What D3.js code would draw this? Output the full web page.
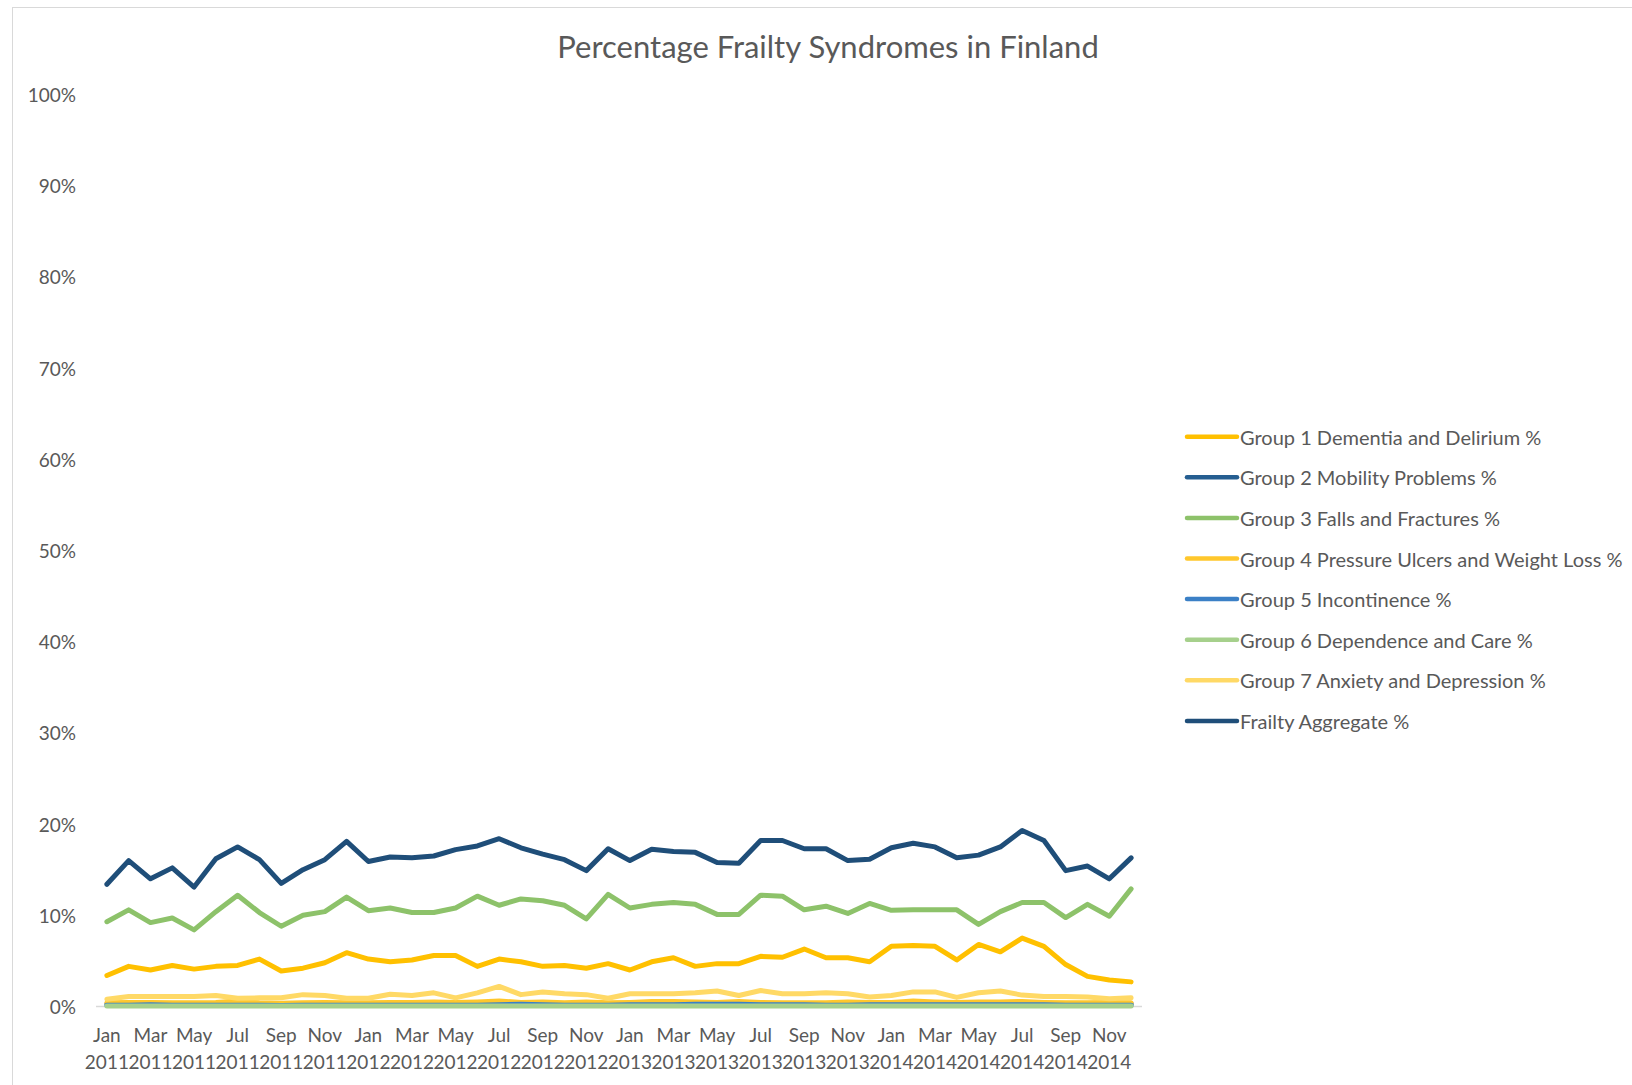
<!DOCTYPE html>
<html>
<head>
<meta charset="utf-8">
<script src="https://cdn.jsdelivr.net/npm/d3@7.9.0/dist/d3.min.js"></script>
<style>
  body { margin: 0; background: #fff; }
  svg { display: block; font-family: Lato, "Open Sans", sans-serif; }
</style>
</head>
<body>
<svg width="1632" height="1085"></svg>
<script>
// categories
const monthNames = ['Jan','Feb','Mar','Apr','May','Jun','Jul','Aug','Sep','Oct','Nov','Dec'];
const years = ['2011','2012','2013','2014'];
const categories = years.flatMap(y => monthNames.map(m => `${m} ${y}`));

const yTicks = [0, 10, 20, 30, 40, 50, 60, 70, 80, 90, 100];

// series values (%)
const group1 = [3.4,4.4,4.0,4.5,4.1,4.4,4.5,5.2,3.9,4.2,4.8,5.9, 5.2,4.9,5.1,5.6,5.6,4.4,5.2,4.9,4.4,4.5,4.2,4.7,
  4.0,4.9,5.35,4.4,4.7,4.7,5.5,5.4,6.3,5.35,5.35,4.9, 6.6,6.7,6.6,5.1,6.8,6.0,7.5,6.6,4.6,3.3,2.9,2.7];
const group2 = [0.3,0.35,0.35,0.3,0.3,0.3,0.25,0.25,0.25,0.25,0.25,0.2, 0.2,0.2,0.25,0.25,0.25,0.25,0.3,0.35,0.3,0.25,0.25,0.25,
  0.3,0.3,0.3,0.3,0.35,0.35,0.3,0.3,0.3,0.3,0.25,0.3, 0.3,0.3,0.3,0.35,0.35,0.35,0.35,0.35,0.3,0.3,0.3,0.3];
const group3 = [9.3,10.6,9.2,9.7,8.4,10.4,12.2,10.3,8.8,10.0,10.4,12.0, 10.5,10.8,10.3,10.3,10.8,12.1,11.1,11.8,11.6,11.1,9.6,12.3,
  10.8,11.2,11.4,11.2,10.1,10.1,12.2,12.1,10.6,11.0,10.2,11.3, 10.55,10.6,10.6,10.6,9.0,10.4,11.4,11.4,9.75,11.2,9.9,12.9];
const group4 = [0.4,0.45,0.45,0.4,0.4,0.45,0.6,0.4,0.35,0.4,0.45,0.4, 0.4,0.45,0.45,0.5,0.45,0.5,0.6,0.45,0.5,0.4,0.5,0.4,
  0.45,0.55,0.55,0.5,0.45,0.55,0.45,0.4,0.4,0.4,0.5,0.45, 0.45,0.6,0.5,0.45,0.5,0.5,0.55,0.45,0.4,0.4,0.45,0.4];
const group5 = [0.15,0.15,0.2,0.15,0.15,0.15,0.15,0.15,0.1,0.15,0.15,0.15, 0.15,0.15,0.15,0.15,0.15,0.15,0.2,0.25,0.2,0.15,0.15,0.15,
  0.2,0.2,0.2,0.25,0.25,0.25,0.2,0.2,0.2,0.15,0.15,0.2, 0.2,0.2,0.2,0.2,0.2,0.2,0.2,0.2,0.15,0.15,0.15,0.15];
const group6 = [0.05,0.05,0.05,0.05,0.05,0.05,0.05,0.05,0.05,0.05,0.05,0.05, 0.05,0.05,0.05,0.05,0.05,0.05,0.05,0.05,0.05,0.05,0.05,0.05,
  0.05,0.05,0.05,0.05,0.05,0.05,0.05,0.05,0.05,0.05,0.05,0.05, 0.05,0.05,0.05,0.05,0.05,0.05,0.05,0.05,0.05,0.05,0.05,0.05];
const group7 = [0.8,1.1,1.1,1.1,1.1,1.2,0.9,0.95,0.95,1.3,1.2,0.9, 0.9,1.35,1.2,1.5,0.95,1.5,2.2,1.3,1.6,1.4,1.3,0.9,
  1.4,1.4,1.4,1.5,1.7,1.2,1.75,1.4,1.4,1.5,1.4,1.05, 1.2,1.6,1.6,1.0,1.5,1.7,1.25,1.1,1.1,1.05,0.85,0.95];
const aggregate = [13.4,16.0,14.0,15.2,13.1,16.2,17.5,16.1,13.5,15.0,16.1,18.1, 15.9,16.4,16.3,16.5,17.2,17.6,18.4,17.4,16.7,16.1,14.9,17.3,
  16.0,17.25,17.0,16.9,15.8,15.7,18.2,18.2,17.3,17.3,16.0,16.15, 17.4,17.9,17.5,16.3,16.6,17.5,19.3,18.2,14.9,15.4,14.0,16.3];

const seriesNames = ['Group 1 Dementia and Delirium %','Group 2 Mobility Problems %','Group 3 Falls and Fractures %',
  'Group 4 Pressure Ulcers and Weight Loss %','Group 5 Incontinence %','Group 6 Dependence and Care %',
  'Group 7 Anxiety and Depression %','Frailty Aggregate %'];
const seriesValues = [group1, group2, group3, group4, group5, group6, group7, aggregate];
const seriesColors = ['#ffc000','#255e91','#8dc26a','#ffc72c','#3b80c6','#a6d08c','#ffd966','#1f4e79'];

const svg = d3.select('svg');
const textColor = '#595959';

// outer chart border (only top and left visible)
svg.append('rect')
  .attr('x', 12.5).attr('y', 7.5)
  .attr('width', 1700).attr('height', 1200)
  .attr('fill', 'none').attr('stroke', '#d9d9d9');

svg.append('text')
  .attr('x', 828).attr('y', 46)
  .attr('text-anchor', 'middle').attr('dominant-baseline', 'central')
  .attr('fill', textColor).attr('font-size', 31)
  .text('Percentage Frailty Syndromes in Finland');

let x = d3.scaleBand().domain(categories).range([96, 1142]);
let y = d3.scaleLinear().domain([0, 100]).range([1006.5, 94.5]);
let cx = (c) => x(c) + x.bandwidth() / 2;

// y labels
svg.append('g').selectAll('text').data(yTicks).join('text')
  .attr('x', 76).attr('y', d => y(d))
  .attr('text-anchor', 'end').attr('dominant-baseline', 'central')
  .attr('fill', textColor).attr('font-size', 19)
  .text(d => d + '%');

// x axis line
svg.append('line')
  .attr('x1', 96).attr('x2', 1142).attr('y1', y(0)).attr('y2', y(0))
  .attr('stroke', '#d9d9d9').attr('stroke-width', 1.5);

// x labels, every other month
let xl = svg.append('g').selectAll('text')
  .data(categories.filter((d, i) => i % 2 === 0)).join('text')
  .attr('text-anchor', 'middle').attr('fill', textColor).attr('font-size', 19);
xl.append('tspan').attr('x', d => cx(d)).attr('y', 1034).attr('dominant-baseline', 'central')
  .text(d => d.split(' ')[0]);
xl.append('tspan').attr('x', d => cx(d)).attr('y', 1061).attr('dominant-baseline', 'central')
  .text(d => d.split(' ')[1]);

// lines
let line = d3.line().x((d, i) => cx(categories[i])).y(d => y(d));
seriesValues.forEach((vals, idx) => {
  svg.append('path')
    .attr('d', line(vals))
    .attr('fill', 'none')
    .attr('stroke', seriesColors[idx])
    .attr('stroke-width', 5)
    .attr('stroke-linejoin', 'round')
    .attr('stroke-linecap', 'round');
});

// legend
let legend = svg.append('g');
seriesNames.forEach((name, idx) => {
  let ly = 436.7 + idx * 40.6;
  legend.append('line')
    .attr('x1', 1187).attr('x2', 1237).attr('y1', ly).attr('y2', ly)
    .attr('stroke', seriesColors[idx]).attr('stroke-width', 4.5)
    .attr('stroke-linecap', 'round');
  legend.append('text')
    .attr('x', 1240).attr('y', ly)
    .attr('dominant-baseline', 'central')
    .attr('fill', textColor).attr('font-size', 20)
    .text(name);
});
</script>
</body>
</html>
